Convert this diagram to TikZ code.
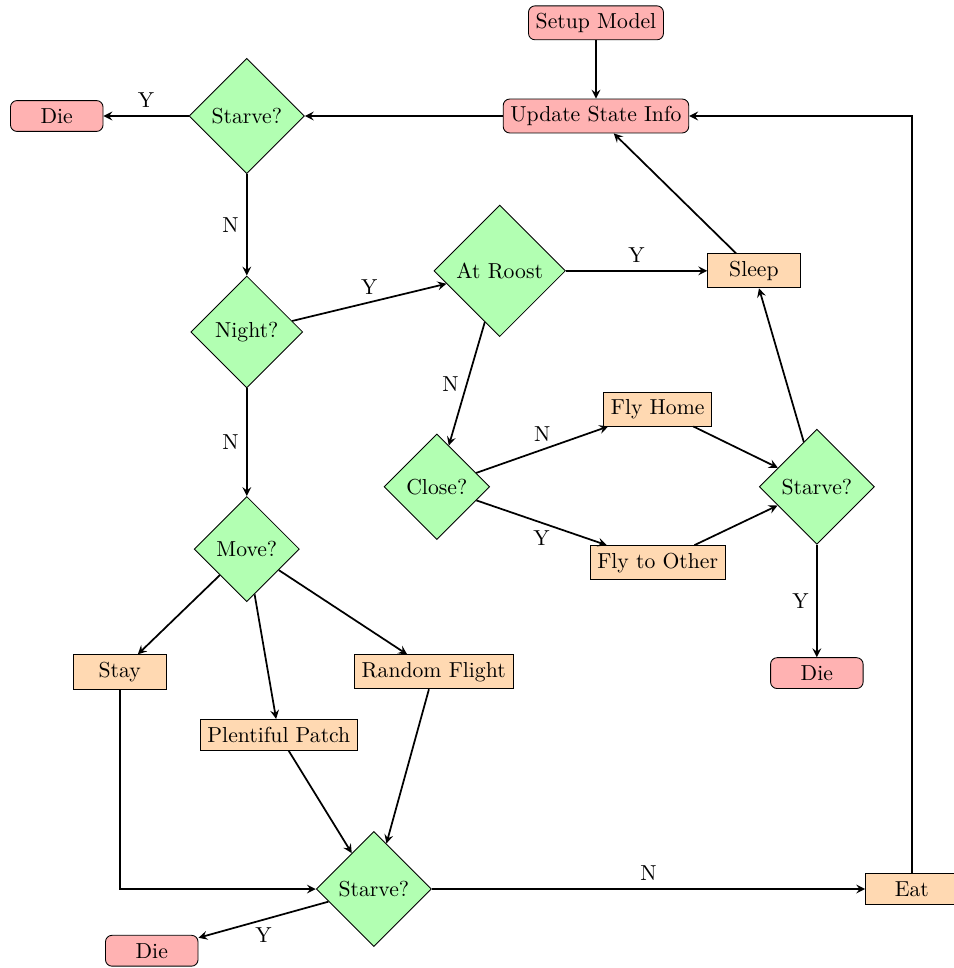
\documentclass[tikz,border=0pt]{standalone}
\usepackage{tikz}
\usetikzlibrary{shapes.geometric}
\usetikzlibrary{arrows}

\begin{document}
\begin{tikzpicture}[>=stealth,thick,
  startstop/.style={rectangle,rounded corners=3pt,draw,fill=red!30,minimum width=1.5cm,minimum height=0.5cm,thin},
  process/.style={rectangle,draw,fill=orange!30,minimum width=1.5cm,minimum height=0.5cm,thin},
  decision/.style={diamond,aspect=1,draw,fill=green!30,thin}]

  \useasboundingbox (0,0) rectangle (15.45,-15.69);

  \node[startstop] (setup) at (9.66,-0.37) {Setup Model};
  \node[startstop] (update) at (9.66,-1.88) {Update State Info};
  \node[decision] (starveA) at (4.00,-1.88) {Starve?};
  \node[startstop] (dieA) at (0.92,-1.88) {Die};
  \node[decision] (night) at (4.00,-5.38) {Night?};
  \node[decision] (roost) at (8.10,-4.39) {At Roost};
  \node[process] (sleep) at (12.22,-4.39) {Sleep};
  \node[decision] (close) at (7.08,-7.89) {Close?};
  \node[process] (flyhome) at (10.66,-6.63) {Fly Home};
  \node[process] (flyother) at (10.66,-9.12) {Fly to Other};
  \node[decision] (starveB) at (13.24,-7.89) {Starve?};
  \node[startstop] (dieB) at (13.24,-10.91) {Die};
  \node[decision] (move) at (4.00,-8.90) {Move?};
  \node[process] (stay) at (1.94,-10.89) {Stay};
  \node[process] (random) at (7.03,-10.89) {Random Flight};
  \node[process] (plenty) at (4.52,-11.91) {Plentiful Patch};
  \node[decision] (starveC) at (6.06,-14.41) {Starve?};
  \node[process] (eat) at (14.78,-14.41) {Eat};
  \node[startstop] (dieC) at (2.46,-15.41) {Die};

  \path[->]
    (setup) edge (update)
    (update) edge (starveA)
    (starveA) edge node [above] {Y} (dieA)
              edge node [left] {N} (night)
    (night) edge node [above] {Y} (roost)
            edge node [left] {N} (move)
    (roost) edge node [above] {Y} (sleep)
            edge node [left] {N} (close)
    (close) edge node [above] {N} (flyhome)
            edge node [below] {Y} (flyother)
    (flyhome) edge (starveB)
    (flyother) edge (starveB)
    (starveB) edge (sleep)
              edge node [left] {Y} (dieB)
    (sleep) edge (update)
    (move) edge (stay)
           edge (plenty)
           edge (random)
    (plenty) edge (starveC)
    (random) edge (starveC)
    (starveC) edge node [above] {N} (eat)
              edge node [below] {Y} (dieC);
  \draw[->] (stay) |- (starveC);
  \draw[->] (eat) |- (update);

\end{tikzpicture}
\end{document}
